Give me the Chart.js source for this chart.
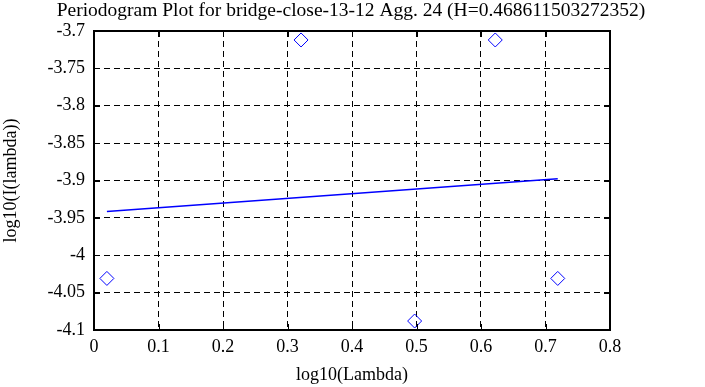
<!DOCTYPE html>
<html>
<head>
<meta charset="utf-8">
<script src="https://cdn.jsdelivr.net/npm/chart.js@4/dist/chart.umd.min.js"></script>
<style>
html,body{margin:0;padding:0;background:#fff;}
#wrap{width:705px;height:387px;position:relative;}
</style>
</head>
<body>
<div id="wrap"><canvas id="c" width="705" height="387"></canvas></div>
<script>
const titleText = "Periodogram Plot for bridge-close-13-12 Agg. 24 (H=0.468611503272352)";
const xTitle = "log10(Lambda)";
const yTitle = "log10(I(lambda))";
const logLambda = [0.0200, 0.3210, 0.4971, 0.6221, 0.7190];
const logI = [-4.031, -3.712, -4.088, -3.712, -4.031];
const fitX = [0.0200, 0.7190];
const fitY = [-3.9414, -3.8975];
const xTicks = [0, 0.1, 0.2, 0.3, 0.4, 0.5, 0.6, 0.7, 0.8];
const yTicks = [-3.7, -3.75, -3.8, -3.85, -3.9, -3.95, -4, -4.05, -4.1];

const FONT = "'Liberation Serif', 'Times New Roman', serif";

const framePlugin = {
  id: 'frame',
  afterDatasetsDraw(chart) {
    const {ctx, chartArea: a, scales} = chart;
    ctx.save();
    ctx.strokeStyle = '#000';
    ctx.lineWidth = 1;
    const tl = 6;
    xTicks.forEach(v => {
      const x = Math.round(scales.x.getPixelForValue(v)) + 0.5;
      ctx.beginPath();
      ctx.moveTo(x, a.bottom); ctx.lineTo(x, a.bottom - tl);
      ctx.moveTo(x, a.top); ctx.lineTo(x, a.top + tl);
      ctx.stroke();
    });
    yTicks.forEach(v => {
      const y = Math.round(scales.y.getPixelForValue(v)) + 0.5;
      ctx.beginPath();
      ctx.moveTo(a.left, y); ctx.lineTo(a.left + tl, y);
      ctx.moveTo(a.right, y); ctx.lineTo(a.right - tl, y);
      ctx.stroke();
    });
    ctx.lineWidth = 2;
    ctx.strokeRect(a.left, a.top, a.right - a.left, a.bottom - a.top);
    // title
    ctx.fillStyle = '#000';
    ctx.font = "19.5px " + FONT;
    ctx.textAlign = 'center';
    ctx.textBaseline = 'middle';
    ctx.fillText(titleText, 351, 11);
    ctx.restore();
  }
};

new Chart(document.getElementById('c'), {
  type: 'scatter',
  data: {
    datasets: [
      {
        data: logLambda.map((x, i) => ({x: x, y: logI[i]})),
        pointStyle: 'rectRot',
        pointRadius: 7,
        pointHoverRadius: 7,
        borderColor: '#0000ff',
        backgroundColor: 'rgba(0,0,0,0)',
        borderWidth: 1,
        showLine: false
      },
      {
        data: fitX.map((x, i) => ({x: x, y: fitY[i]})),
        showLine: true,
        borderColor: '#0000ff',
        borderWidth: 1.5,
        pointRadius: 0,
        fill: false
      }
    ]
  },
  options: {
    responsive: false,
    animation: false,
    events: [],
    layout: {padding: {top: 31, right: 95, left: 0, bottom: 0}},
    plugins: {legend: {display: false}, tooltip: {enabled: false}, title: {display: false}},
    scales: {
      x: {
        type: 'linear', min: 0, max: 0.8,
        afterBuildTicks: s => { s.ticks = xTicks.map(v => ({value: v})); },
        afterFit: s => { s.height = 57; },
        grid: {color: '#000', lineWidth: 1, drawTicks: false},
        border: {display: false, dash: [6, 4]},
        ticks: {color: '#000', font: {family: FONT, size: 18}, padding: 6, maxRotation: 0,
          callback: v => String(v)},
        title: {display: true, text: xTitle, color: '#000', font: {family: FONT, size: 18}, padding: {top: 0, bottom: 1}}
      },
      y: {
        type: 'linear', min: -4.1, max: -3.7,
        afterBuildTicks: s => { s.ticks = yTicks.map(v => ({value: v})); },
        afterFit: s => { s.width = 94; },
        grid: {color: '#000', lineWidth: 1, drawTicks: false},
        border: {display: false, dash: [6, 4]},
        ticks: {color: '#000', font: {family: FONT, size: 18}, padding: 9,
          callback: v => String(v)},
        title: {display: true, text: yTitle, color: '#000', font: {family: FONT, size: 18}, padding: {top: 0, bottom: 2}}
      }
    }
  },
  plugins: [framePlugin]
});
</script>
</body>
</html>
